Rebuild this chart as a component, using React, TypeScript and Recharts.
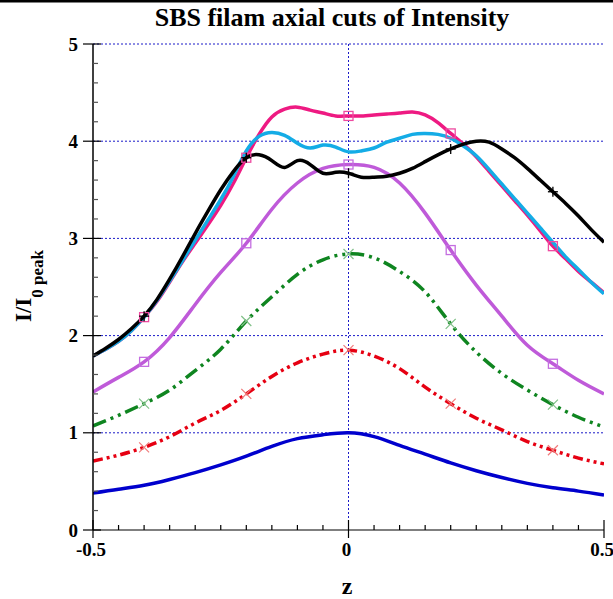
import React from 'react';
import { LineChart, Line, XAxis, YAxis, ReferenceLine } from 'recharts';

// ---- data ----
const zCoarse = [-0.5, -0.45, -0.4, -0.35, -0.3, -0.25, -0.2, -0.15, -0.1, -0.05, 0, 0.05, 0.1, 0.15, 0.2, 0.25, 0.3, 0.35, 0.4, 0.45, 0.5];
const zFine = [-0.5, -0.475, -0.45, -0.425, -0.4, -0.375, -0.35, -0.325, -0.3, -0.275, -0.25, -0.225, -0.2, -0.175, -0.15, -0.125, -0.1, -0.075, -0.05, -0.025, 0, 0.025, 0.05, 0.075, 0.1, 0.125, 0.15, 0.175, 0.2, 0.225, 0.25, 0.275, 0.3, 0.325, 0.35, 0.375, 0.4, 0.425, 0.45, 0.475, 0.5];

const blueVals = [0.38, 0.42, 0.46, 0.52, 0.59, 0.67, 0.76, 0.86, 0.94, 0.98, 1.0, 0.96, 0.87, 0.78, 0.69, 0.61, 0.54, 0.48, 0.435, 0.4, 0.36];
const redVals = [0.71, 0.77, 0.85, 0.96, 1.1, 1.23, 1.4, 1.58, 1.72, 1.81, 1.85, 1.79, 1.66, 1.47, 1.3, 1.15, 1.03, 0.91, 0.82, 0.74, 0.68];
const greenVals = [1.07, 1.18, 1.3, 1.44, 1.64, 1.86, 2.15, 2.4, 2.63, 2.78, 2.84, 2.8, 2.66, 2.45, 2.12, 1.83, 1.61, 1.44, 1.29, 1.16, 1.06];
const purpleVals = [1.42, 1.57, 1.73, 1.98, 2.32, 2.65, 2.95, 3.3, 3.57, 3.72, 3.76, 3.73, 3.57, 3.26, 2.88, 2.52, 2.2, 1.9, 1.71, 1.54, 1.4];

const pinkVals = [1.79, 1.86, 1.94, 2.05, 2.19, 2.35, 2.55, 2.76, 2.95, 3.14, 3.34, 3.57, 3.83, 4.07, 4.25, 4.33, 4.35, 4.32, 4.29, 4.26, 4.26, 4.26, 4.27, 4.28, 4.29, 4.3, 4.27, 4.19, 4.08, 3.97, 3.84, 3.69, 3.54, 3.39, 3.24, 3.08, 2.92, 2.79, 2.66, 2.55, 2.44];
const cyanVals = [1.79, 1.86, 1.94, 2.05, 2.19, 2.36, 2.56, 2.77, 2.98, 3.19, 3.4, 3.64, 3.9, 4.05, 4.09, 4.06, 3.98, 3.93, 3.96, 3.94, 3.89, 3.9, 3.93, 3.99, 4.03, 4.07, 4.08, 4.07, 4.03, 3.95, 3.85, 3.71, 3.56, 3.41, 3.26, 3.11, 2.96, 2.81, 2.68, 2.55, 2.43];
const blackVals = [1.79, 1.87, 1.96, 2.07, 2.2, 2.37, 2.58, 2.81, 3.05, 3.28, 3.5, 3.69, 3.83, 3.86, 3.8, 3.73, 3.8, 3.76, 3.67, 3.68, 3.67, 3.63, 3.63, 3.64, 3.67, 3.72, 3.79, 3.86, 3.92, 3.97, 4.0, 3.99, 3.92, 3.83, 3.72, 3.6, 3.48, 3.36, 3.23, 3.09, 2.96];

const markerZ = [-0.4, -0.2, 0, 0.2, 0.4];

const xMajorTicks = [-0.5, 0, 0.5];
const xTickLabels = ['-0.5', '0', '0.5'];
const xAllTicks = zCoarse;
const yMajorTicks = [0, 1, 2, 3, 4, 5];
const yTickLabels = ['0', '1', '2', '3', '4', '5'];
const yAllTicks = [0, 0.2, 0.4, 0.6, 0.8, 1, 1.2, 1.4, 1.6, 1.8, 2, 2.2, 2.4, 2.6, 2.8, 3, 3.2, 3.4, 3.6, 3.8, 4, 4.2, 4.4, 4.6, 4.8, 5];
const gridY = [1, 2, 3, 4, 5];

const title = 'SBS filam axial cuts of Intensity';
const xLabel = 'z';
const yLabelMain = 'I/I';
const yLabelSub = '0 peak';

// ---- helpers ----
const toData = (zs: number[], vs: number[]) => zs.map((z, i) => ({ z, v: vs[i] }));
const near = (a: number, b: number) => Math.abs(a - b) < 1e-6;
const FONT = '"Liberation Serif", "Times New Roman", serif';

function makeDot(kind: 'square' | 'x' | 'plus', color: string) {
  return (props: any) => {
    const { cx, cy, payload, index } = props;
    const k = `d${index}`;
    if (cx == null || cy == null || !markerZ.some((m) => near(m, payload.z))) return <g key={k} />;
    if (kind === 'square') {
      return <rect key={k} x={cx - 4.5} y={cy - 4.5} width={9} height={9} fill="none" stroke={color} strokeWidth={1.3} />;
    }
    if (kind === 'x') {
      return (
        <g key={k} stroke={color} strokeWidth={1.2}>
          <line x1={cx - 5} y1={cy - 5} x2={cx + 5} y2={cy + 5} />
          <line x1={cx - 5} y1={cy + 5} x2={cx + 5} y2={cy - 5} />
        </g>
      );
    }
    return (
      <g key={k} stroke={color} strokeWidth={1.3}>
        <line x1={cx - 5} y1={cy} x2={cx + 5} y2={cy} />
        <line x1={cx} y1={cy - 5} x2={cx} y2={cy + 5} />
      </g>
    );
  };
}

const BottomTick = (p: any) => {
  const i = xMajorTicks.findIndex((m) => near(m, p.payload.value));
  const major = i >= 0;
  return (
    <g>
      <line x1={p.x} x2={p.x} y1={p.y - (major ? 10 : 5)} y2={p.y + (major ? 8 : 0)} stroke="#000" strokeWidth={1.2} />
      {major && (
        <text x={p.x - 2} y={p.y + 26} textAnchor="middle" fontFamily={FONT} fontWeight="bold" fontSize={19} fill="#000">
          {xTickLabels[i]}
        </text>
      )}
    </g>
  );
};

const TopTick = (p: any) => {
  const major = xMajorTicks.some((m) => near(m, p.payload.value));
  return <line x1={p.x} x2={p.x} y1={p.y - (major ? 9 : 0)} y2={p.y + (major ? 9 : 4)} stroke="#000" strokeWidth={1.2} />;
};

const LeftTick = (p: any) => {
  const i = yMajorTicks.findIndex((m) => near(m, p.payload.value));
  const major = i >= 0;
  return (
    <g>
      <line x1={p.x - (major ? 10 : 0)} x2={p.x + (major ? 8 : 5)} y1={p.y} y2={p.y} stroke={major ? '#000' : '#555'} strokeWidth={1.2} />
      {major && (
        <text x={p.x - 15} y={p.y + 6.5} textAnchor="end" fontFamily={FONT} fontWeight="bold" fontSize={19} fill="#000">
          {yTickLabels[i]}
        </text>
      )}
    </g>
  );
};

const RightTick = (p: any) => {
  const major = yMajorTicks.some((m) => near(m, p.payload.value));
  return <line x1={p.x - (major ? 7 : 4)} x2={p.x + (major ? 9 : 0)} y1={p.y} y2={p.y} stroke={major ? '#000' : '#555'} strokeWidth={1.2} />;
};

const SW = 3.5;

export default function App() {
  return (
    <div style={{ position: 'absolute', left: 0, top: 0, width: 613, height: 599, background: '#fff' }}>
      <LineChart width={613} height={599} margin={{ top: 44, right: 9, bottom: 0, left: 0 }}>
        <XAxis
          xAxisId="bottom"
          orientation="bottom"
          type="number"
          dataKey="z"
          domain={[-0.5, 0.5]}
          ticks={xAllTicks}
          interval={0}
          height={69}
          tickSize={0}
          tickMargin={0}
          tickLine={false}
          axisLine={{ stroke: '#000', strokeWidth: 1.2 }}
          tick={BottomTick}
          allowDataOverflow
        />
        <XAxis
          xAxisId="top"
          orientation="top"
          type="number"
          dataKey="z"
          domain={[-0.5, 0.5]}
          ticks={xAllTicks}
          interval={0}
          height={0}
          tickSize={0}
          tickMargin={0}
          tickLine={false}
          axisLine={false}
          tick={TopTick}
          allowDataOverflow
        />
        <YAxis
          yAxisId="left"
          orientation="left"
          type="number"
          domain={[0, 5]}
          ticks={yAllTicks}
          interval={0}
          width={93}
          tickSize={0}
          tickMargin={0}
          tickLine={false}
          axisLine={{ stroke: '#000', strokeWidth: 1.5 }}
          tick={LeftTick}
          allowDataOverflow
        />
        <YAxis
          yAxisId="right"
          orientation="right"
          type="number"
          domain={[0, 5]}
          ticks={yAllTicks}
          interval={0}
          width={0}
          tickSize={0}
          tickMargin={0}
          tickLine={false}
          axisLine={{ stroke: '#000', strokeWidth: 1.5 }}
          tick={RightTick}
          allowDataOverflow
        />
        {gridY.map((g) => (
          <ReferenceLine key={`g${g}`} xAxisId="bottom" yAxisId="left" y={g} stroke="#1a1ac8" strokeDasharray="2 2" strokeWidth={1} />
        ))}
        <ReferenceLine xAxisId="bottom" yAxisId="left" x={0} stroke="#1a1ac8" strokeDasharray="2 2" strokeWidth={1} />

        <Line xAxisId="bottom" yAxisId="left" data={toData(zCoarse, blueVals)} dataKey="v" type="natural" stroke="#0000cd" strokeWidth={SW} dot={false} isAnimationActive={false} />
        <Line xAxisId="bottom" yAxisId="left" data={toData(zCoarse, redVals)} dataKey="v" type="natural" stroke="#e60012" strokeWidth={SW} strokeDasharray="10 4 3 4 3 4" dot={makeDot('x', '#f07a7a')} isAnimationActive={false} />
        <Line xAxisId="bottom" yAxisId="left" data={toData(zCoarse, greenVals)} dataKey="v" type="natural" stroke="#0f8520" strokeWidth={SW} strokeDasharray="14 5 3 5 3 5" dot={makeDot('x', '#80c088')} isAnimationActive={false} />
        <Line xAxisId="bottom" yAxisId="left" data={toData(zCoarse, purpleVals)} dataKey="v" type="natural" stroke="#bf5ad9" strokeWidth={SW} dot={makeDot('square', '#c46ee0')} isAnimationActive={false} />
        <Line xAxisId="bottom" yAxisId="left" data={toData(zFine, pinkVals)} dataKey="v" type="natural" stroke="#ee1a82" strokeWidth={SW} dot={makeDot('square', '#ee4aa0')} isAnimationActive={false} />
        <Line xAxisId="bottom" yAxisId="left" data={toData(zFine, cyanVals)} dataKey="v" type="natural" stroke="#14ace6" strokeWidth={SW} dot={false} isAnimationActive={false} />
        <Line xAxisId="bottom" yAxisId="left" data={toData(zFine, blackVals)} dataKey="v" type="natural" stroke="#000" strokeWidth={SW} dot={makeDot('plus', '#000')} isAnimationActive={false} />
      </LineChart>
      <svg width={613} height={599} style={{ position: 'absolute', left: 0, top: 0, pointerEvents: 'none' }}>
        <rect x={0} y={0} width={613} height={2.5} fill="#000" />
        <text x={332} y={26} textAnchor="middle" fontFamily={FONT} fontWeight="bold" fontSize={26} fill="#000">
          {title}
        </text>
        <text x={347} y={594} textAnchor="middle" fontFamily={FONT} fontWeight="bold" fontSize={24} fill="#000">
          {xLabel}
        </text>
        <text transform="translate(31,286) rotate(-90)" textAnchor="middle" fontFamily={FONT} fontWeight="bold" fill="#000">
          <tspan fontSize={23}>{yLabelMain}</tspan>
          <tspan fontSize={17} dy={12}>{yLabelSub}</tspan>
        </text>
      </svg>
    </div>
  );
}
